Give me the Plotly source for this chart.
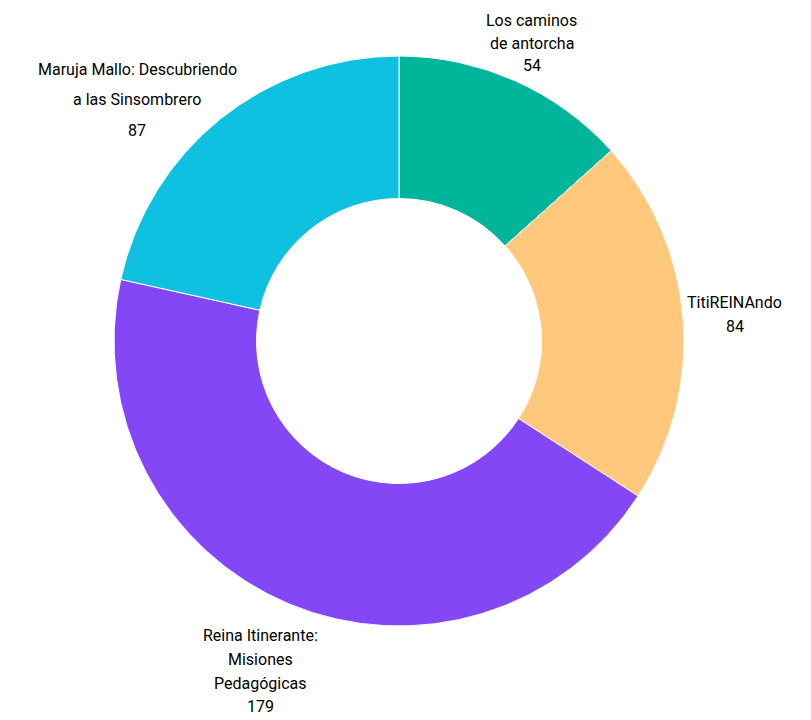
import math
import plotly.graph_objects as go

labels = ["Los caminos<br>de antorcha", "TitiREINAndo", "Reina Itinerante:<br>Misiones<br>Pedagógicas", "Maruja Mallo: Descubriendo<br>a las Sinsombrero"]
values = [54, 84, 179, 87]
colors = ["#00B59A", "#FFC87C", "#8447F5", "#0EC1E0"]

W, H = 811, 720
ML, MR, MT, MB = 102, 115, 56, 94
PW, PH = W - ML - MR, H - MT - MB
CX, CY = ML + PW / 2, MT + PH / 2

FONT = "Roboto, sans-serif"
FS = 16

fig = go.Figure(go.Pie(
    labels=labels,
    values=values,
    hole=0.5,
    sort=False,
    direction="clockwise",
    rotation=0,
    marker=dict(colors=colors, line=dict(color="white", width=1)),
    textinfo="none",
    hoverinfo="label+value",
    showlegend=False,
))

# label placement: radial distance (px), angular nudge (deg), line gap (px) per slice
label_dist = [326, 337, 358, 356]
label_nudge = [0, 0, 0, -8.6]
line_gap = [22.5, 24, 23.7, 30.5]

total = sum(values)
cum = 0
annotations = []
for lab, v, d, nudge, gap in zip(labels, values, label_dist, label_nudge, line_gap):
    mid = (cum + v / 2) / total * 360 + nudge
    cum += v
    a = math.radians(mid)
    px = CX + d * math.sin(a)
    py = CY - d * math.cos(a)
    lines = lab.split("<br>") + [str(v)]
    n = len(lines)
    for i, t in enumerate(lines):
        ly = py + (i - (n - 1) / 2) * gap
        annotations.append(dict(
            x=(px - ML) / PW, y=1 - (ly - MT) / PH,
            xref="paper", yref="paper",
            text=t, showarrow=False,
            xanchor="center", yanchor="middle",
            font=dict(family=FONT, size=FS, color="#000000"),
        ))

fig.update_layout(
    width=W, height=H,
    margin=dict(l=ML, r=MR, t=MT, b=MB),
    paper_bgcolor="white",
    plot_bgcolor="white",
    annotations=annotations,
)
fig.write_html("out.html", config={"displayModeBar": False},
               post_script="document.body.style.margin='0';")
